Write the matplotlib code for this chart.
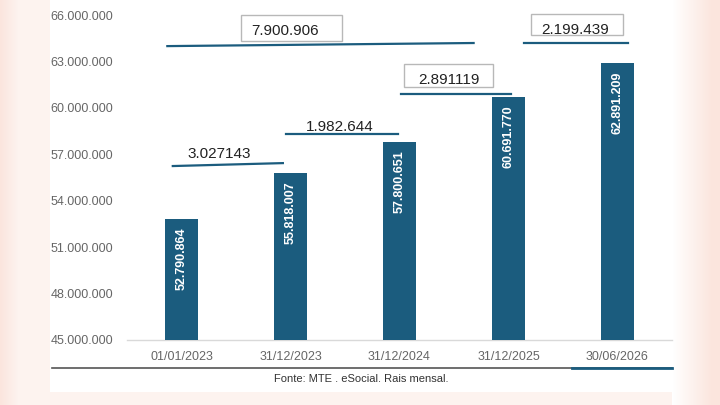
import numpy as np
import matplotlib
matplotlib.use("Agg")
import matplotlib.pyplot as plt
from matplotlib.patches import Rectangle
from matplotlib.lines import Line2D
from matplotlib.ticker import FuncFormatter

plt.rcParams["font.family"] = ["Liberation Sans", "DejaVu Sans"]

# ── Data ──────────────────────────────────────────────────────────────────────
dates = ["01/01/2023", "31/12/2023", "31/12/2024", "31/12/2025", "30/06/2026"]
vinculos = [52790864, 55818007, 57800651, 60691770, 62891209]

# variation notes between dates
notes_label = ["3.027143", "1.982.644", "2.891119", "7.900.906", "2.199.439"]
notes_line_x = [(-0.08, 0.93), (0.96, 1.99), (2.01, 3.02), (-0.13, 2.68), (3.14, 4.10)]
notes_line_y = [(56.24e6, 56.43e6), (58.31e6, 58.31e6), (60.90e6, 60.90e6),
                (63.99e6, 64.19e6), (64.19e6, 64.19e6)]
notes_text_xy = [(0.35, 57.02e6), (1.45, 58.76e6), (2.45, 61.80e6),
                 (0.95, 64.97e6), (3.61, 65.03e6)]
notes_box = [None, None, (2.04, 2.86, 61.35e6, 62.83e6),
             (0.55, 1.47, 64.32e6, 66.0e6), (3.21, 4.05, 64.71e6, 66.06e6)]

BLUE = "#1b5c7e"


def fmt_br(v):
    return f"{int(v):,}".replace(",", ".")


fig = plt.figure(figsize=(7.2, 4.05), dpi=100)

# ── Background: peach margins + white panel ──────────────────────────────────
bg = fig.add_axes([0, 0, 1, 1], zorder=-10)
W, H = 720, 405
peach_dark = np.array([251, 229, 221]) / 255
peach_light = np.array([253, 243, 239]) / 255
white = np.ones(3)
img = np.ones((H, W, 3))
for c in range(50):
    t = min(c / 18.0, 1.0)
    img[:, c] = peach_dark * (1 - t) + peach_light * t
for c in range(672, W):
    t = min((c - 672) / 40.0, 1.0)
    img[:, c] = white * (1 - t) + peach_dark * t
img[392:, 50:672] = peach_light
bg.imshow(img, aspect="auto", extent=[0, W, H, 0])
bg.set_xlim(0, W)
bg.set_ylim(H, 0)
bg.axis("off")

# ── Main chart ───────────────────────────────────────────────────────────────
ax = fig.add_axes([127 / 720, 1 - 340 / 405, 545 / 720, 325 / 405])
ax.set_facecolor("none")
x = np.arange(len(dates))
ax.bar(x, vinculos, width=0.31, color=BLUE, zorder=3)

ax.set_xlim(-0.5, 4.5)
ax.set_ylim(45e6, 66e6)
ax.set_yticks(np.arange(45e6, 66e6 + 1, 3e6))
ax.yaxis.set_major_formatter(FuncFormatter(lambda v, p: fmt_br(v)))
ax.set_xticks(x)
ax.set_xticklabels(dates)
ax.tick_params(axis="y", length=0, pad=10, labelsize=9, labelcolor="#666666")
ax.tick_params(axis="x", length=0, pad=8, labelsize=9, labelcolor="#666666")
for s in ["top", "right", "left"]:
    ax.spines[s].set_visible(False)
ax.spines["bottom"].set_color("#d9d9d9")
ax.spines["bottom"].set_linewidth(1)

# values inside the bars
for xi, v in zip(x, vinculos):
    ax.annotate(fmt_br(v), (xi, v), xytext=(0, -6), textcoords="offset points",
                rotation=90, ha="center", va="top", color="white",
                fontsize=9, fontweight="bold", zorder=4)

# variation notes
for lbl, (x0, x1), (y0, y1), (tx, ty), box in zip(
        notes_label, notes_line_x, notes_line_y, notes_text_xy, notes_box):
    ax.plot([x0, x1], [y0, y1], color=BLUE, lw=1.6, clip_on=False, zorder=5)
    if box is not None:
        bx0, bx1, by0, by1 = box
        ax.add_patch(Rectangle((bx0, by0), bx1 - bx0, by1 - by0, fill=False,
                               edgecolor="#b8b8b8", lw=1, clip_on=False, zorder=5))
    ax.text(tx, ty, lbl, ha="center", va="center", fontsize=11,
            color="#222222", clip_on=False, zorder=6)

# bottom rule with the blue segment
fig.add_artist(Line2D([52 / 720, 672 / 720], [1 - 368 / 405] * 2,
                      color="#555555", lw=1.2))
fig.add_artist(Line2D([572 / 720, 672 / 720], [1 - 368 / 405] * 2,
                      color=BLUE, lw=2))

fig.text(361 / 720, 1 - 379 / 405, "Fonte: MTE . eSocial. Rais mensal.",
         ha="center", va="center", fontsize=8, color="#333333")

fig.savefig("out.png", dpi=100)
